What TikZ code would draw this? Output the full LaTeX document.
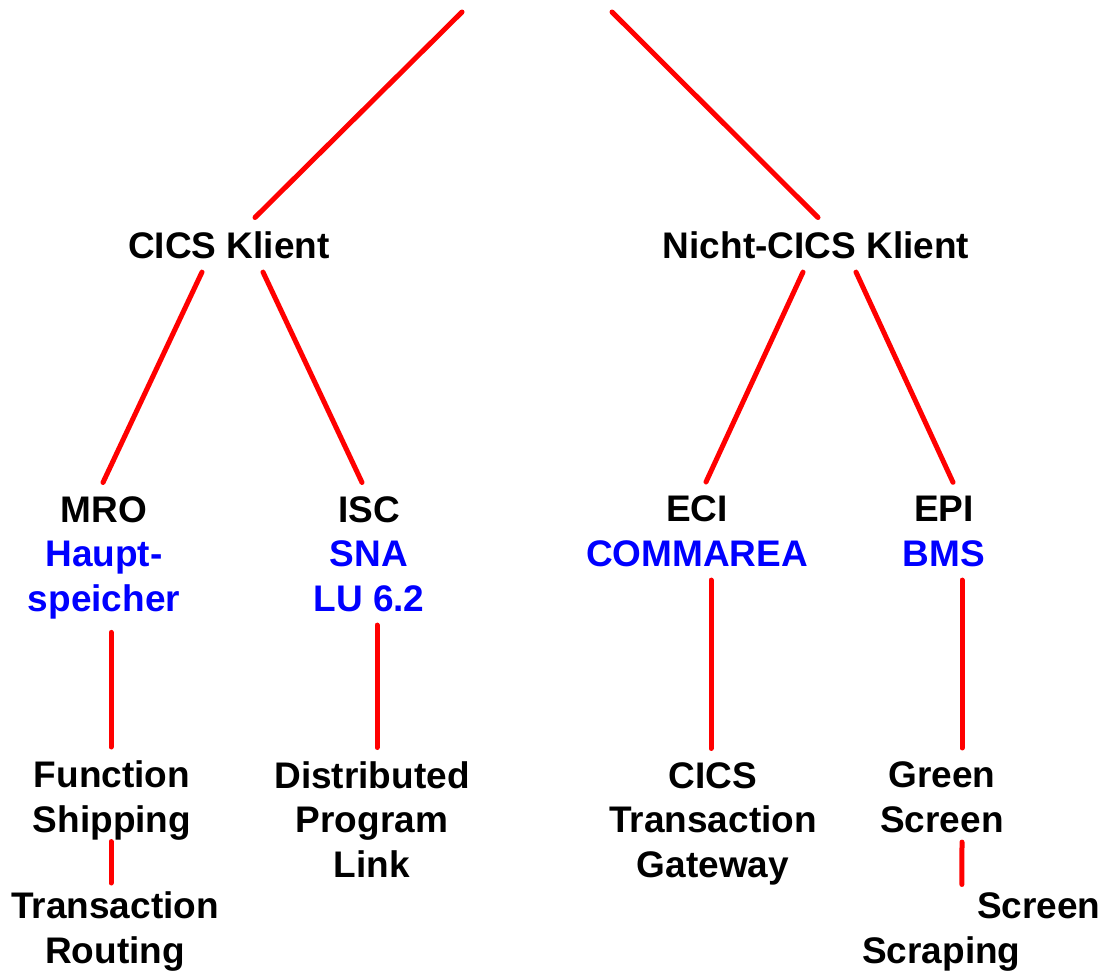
\documentclass[tikz,border=0pt]{standalone}
\usepackage{fontspec}
\setmainfont{Liberation Sans}
\usetikzlibrary{calc}
\newcommand{\hl}[1]{\textcolor{blue}{#1}}

\begin{document}
\begin{tikzpicture}[x=1pt,y=-1pt,
    lbl/.style={font=\fontsize{37pt}{44.5pt}\selectfont\bfseries, align=center,
      inner xsep=0pt, inner ysep=13.5pt, anchor=base},
    link/.style={draw=red, line width=5pt, line cap=round}]
  \useasboundingbox (0,0) rectangle (1108,972);
  \coordinate (rootL) at (462,12);
  \coordinate (rootR) at (612,12);
  % base = baseline of the last line
  \node[lbl] (cics) at (229,258) {CICS Klient};
  \node[lbl] (ncics) at (816,258) {Nicht-CICS Klient};
  \node[lbl] (mro) at (104,611) {MRO\\\hl{Haupt-}\\\hl{speicher}};
  \node[lbl] (isc) at (369,611) {ISC\\\hl{SNA}\\\hl{LU 6.2}};
  \node[lbl] (eci) at (697,566) {ECI\\\hl{COMMAREA}};
  \node[lbl] (epi) at (944,566) {EPI\\\hl{BMS}};
  \node[lbl] (fs) at (112,832) {Function\\Shipping};
  \node[lbl] (dpl) at (372,877) {Distributed\\Program\\Link};
  \node[lbl] (ctg) at (713,877) {CICS\\Transaction\\Gateway};
  \node[lbl] (gs) at (942,832) {Green\\Screen};
  \node[lbl] (tr) at (115,963) {Transaction\\Routing};
  \node[lbl, align=left, anchor=base west] (ss) at (862,963) {\hspace*{115pt}Screen\\Scraping};
  % top level
  \draw[link] (rootL) -- ([xshift=26pt]cics.north);
  \draw[link] (rootR) -- ([xshift=2pt]ncics.north);
  % second level
  \draw[link] ([xshift=-27pt]cics.south) -- ([xshift=-1pt]mro.north);
  \draw[link] ([xshift=34pt]cics.south) -- ([xshift=-7pt]isc.north);
  \draw[link] ([xshift=-13pt]ncics.south) -- ([xshift=9pt]eci.north);
  \draw[link] ([xshift=40pt]ncics.south) -- ([xshift=9pt]epi.north);
  % third level
  \draw[link] ([xshift=7pt]mro.south) -- ([xshift=-1pt]fs.north);
  \draw[link] ([xshift=8pt]isc.south) -- ([xshift=5pt]dpl.north);
  \draw[link] ([xshift=14pt]eci.south) -- ([xshift=-2pt]ctg.north);
  \draw[link] ([xshift=18pt]epi.south) -- ([xshift=20pt]gs.north);
  \draw[link] ([xshift=-1pt,yshift=12pt]fs.south) -- ([xshift=-4pt,yshift=-5pt]tr.north);
  \draw[link] ([xshift=20pt,yshift=4pt]gs.south) -- ([xshift=-19.5pt,yshift=-5.5pt]ss.north);
\end{tikzpicture}
\end{document}
